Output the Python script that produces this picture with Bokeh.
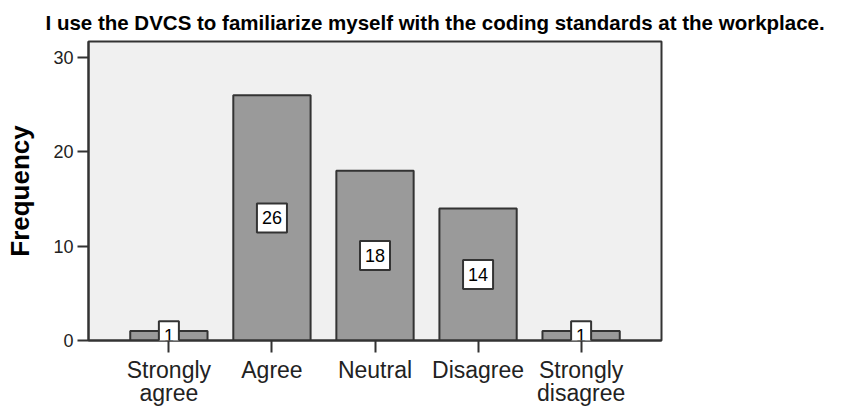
from bokeh.plotting import figure
from bokeh.models import ColumnDataSource, Label, Range1d, FixedTicker
from bokeh.embed import file_html
from bokeh.resources import INLINE

categories = ["Strongly\nagree", "Agree", "Neutral", "Disagree", "Strongly\ndisagree"]
frequency = [1, 26, 18, 14, 1]
y_ticks = [0, 10, 20, 30]
title_text = "I use the DVCS to familiarize myself with the coding standards at the workplace."

xs = list(range(len(categories)))
src = ColumnDataSource(dict(x=xs, top=frequency))

FONT = "Liberation Sans"

p = figure(width=840, height=408, output_backend="svg", toolbar_location=None,
           x_range=Range1d(-0.78, 4.78), y_range=Range1d(0, 31.7),
           min_border_left=88, min_border_right=179, min_border_top=41, min_border_bottom=66)

p.title.text = title_text
p.title.text_font = FONT
p.title.text_font_size = "20.5px"
p.title.text_font_style = "bold"
p.title.align = "left"
p.title.offset = -43
p.title.standoff = 15
p.title.text_color = "#000000"

p.background_fill_color = "#f0f0f0"
p.border_fill_color = "white"
p.outline_line_color = "#333333"
p.outline_line_width = 2
p.xgrid.visible = False
p.ygrid.visible = False

p.vbar(x="x", top="top", width=0.75, source=src,
       fill_color="#9a9a9a", line_color="#333333", line_width=2)

for xi, v in zip(xs, frequency):
    p.add_layout(Label(x=xi, y=v / 2, text=str(v),
                       text_align="center", text_baseline="middle",
                       text_font=FONT, text_font_size="18px", text_color="#000000",
                       background_fill_color="white", border_line_color="#333333",
                       border_line_width=2, padding=dict(x=5, y=8)))

# x axis
p.xaxis.ticker = FixedTicker(ticks=xs)
p.xaxis.major_label_overrides = {i: c for i, c in enumerate(categories)}
p.xaxis.minor_tick_line_color = None
p.xaxis.major_tick_in = 0
p.xaxis.major_tick_out = 12
p.xaxis.major_tick_line_width = 2
p.xaxis.major_tick_line_color = "#333333"
p.xaxis.axis_line_color = "#333333"
p.xaxis.axis_line_width = 2
p.xaxis.major_label_text_font = FONT
p.xaxis.major_label_text_font_size = "23px"
p.xaxis.major_label_text_line_height = 0.9
p.xaxis.major_label_text_color = "#222222"
p.xaxis.major_label_standoff = 4

# y axis
p.yaxis.ticker = FixedTicker(ticks=y_ticks)
p.yaxis.minor_tick_line_color = None
p.yaxis.major_tick_in = 0
p.yaxis.major_tick_out = 11
p.yaxis.major_tick_line_width = 2
p.yaxis.major_tick_line_color = "#333333"
p.yaxis.axis_line_color = "#333333"
p.yaxis.axis_line_width = 2
p.yaxis.major_label_text_font = FONT
p.yaxis.major_label_text_font_size = "18px"
p.yaxis.major_label_text_color = "#222222"
p.yaxis.major_label_standoff = 4
p.yaxis.axis_label = "Frequency"
p.yaxis.axis_label_text_font = FONT
p.yaxis.axis_label_text_font_size = "26px"
p.yaxis.axis_label_text_font_style = "bold"
p.yaxis.axis_label_text_color = "#000000"
p.yaxis.axis_label_standoff = 15

open("out.html", "w").write(file_html(p, INLINE))
